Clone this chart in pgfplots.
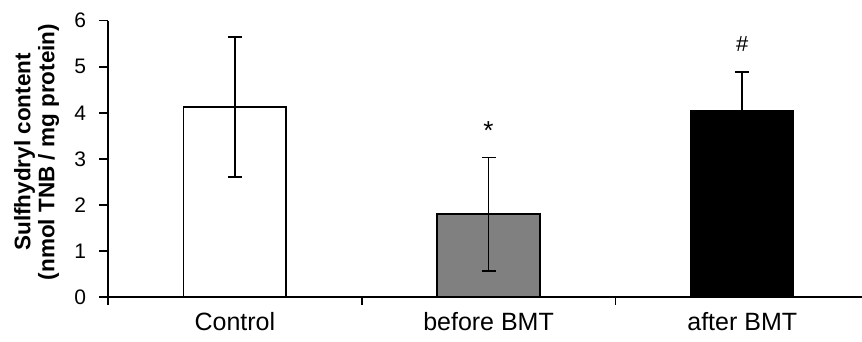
\documentclass[border=0pt]{standalone}
\usepackage{pgfplots}
\pgfplotsset{compat=1.18}
\usepackage{fontspec}
\setmainfont{Liberation Sans}
\begin{document}
\begin{tikzpicture}
\useasboundingbox (-108pt,-45pt) rectangle (754pt,297pt);
\begin{axis}[
  at={(0pt,0pt)}, anchor=south west,
  scale only axis, width=754pt, height=276.3pt,
  xmin=-0.5, xmax=2.472, ymin=0, ymax=6,
  axis x line=bottom, axis y line=left,
  x axis line style={-}, y axis line style={-},
  axis line style={line width=1.8pt, black},
  clip=false,
  tick align=outside,
  ytick={0,1,2,3,4,5,6},
  major tick length=8.5pt,
  every tick/.style={black, line width=1.6pt},
  xtick={0,1,2},
  xticklabels={Control, before BMT, after BMT},
  x tick style={draw=none},
  extra x ticks={-0.5,0.5,1.5},
  extra x tick labels={},
  extra x tick style={x tick style={draw=black, line width=1.6pt}, major tick length=8pt},
  /pgf/number format/assume math mode=true,
  yticklabel style={font=\fontsize{21}{21}\selectfont, xshift=-10pt},
  xticklabel style={font=\fontsize{25}{25}\selectfont, yshift=-3pt},
  ylabel={Sulfhydryl content\\(nmol TNB / mg protein)},
  ylabel style={at={(axis description cs:-0.0948,0.525)}, anchor=center, rotate=0,
    align=center, font=\bfseries\fontsize{22.5}{24}\selectfont},
]
\addplot[ybar, bar width=102.6pt, bar shift=0pt, fill=white, draw=black, line width=1.6pt,
  error bars/.cd, y dir=both, y explicit,
  error bar style={line width=1.8pt, black},
  error mark options={rotate=90, mark size=7pt, line width=1.8pt, black}]
  coordinates {(0,4.13) +- (0,1.52)};
\addplot[ybar, bar width=102.6pt, bar shift=0pt, fill={rgb,255:red,128;green,128;blue,128}, draw=black, line width=1.6pt,
  error bars/.cd, y dir=both, y explicit,
  error bar style={line width=1.8pt, black},
  error mark options={rotate=90, mark size=7pt, line width=1.8pt, black}]
  coordinates {(1,1.80) +- (0,1.23)};
\addplot[ybar, bar width=102.6pt, bar shift=0pt, fill=black, draw=black, line width=1.6pt,
  error bars/.cd, y dir=both, y explicit,
  error bar style={line width=1.8pt, black},
  error mark options={rotate=90, mark size=7pt, line width=1.8pt, black}]
  coordinates {(2,4.05) +- (0,0.83)};
\node[anchor=base, font=\fontsize{26}{26}\selectfont, inner sep=0pt] at (axis cs:1,3.41) {*};
\node[anchor=base, font=\fontsize{22}{22}\selectfont, inner sep=0pt] at (axis cs:2,5.33) {\#};
\end{axis}
\end{tikzpicture}
\end{document}
